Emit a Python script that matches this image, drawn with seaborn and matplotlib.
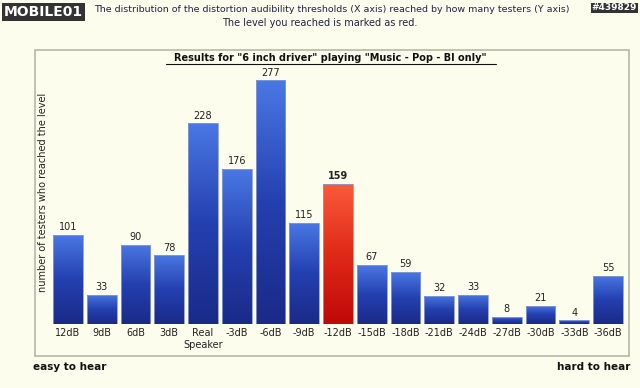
import numpy as np
import pandas as pd
import matplotlib
matplotlib.use("Agg")
import matplotlib.pyplot as plt
from matplotlib.colors import LinearSegmentedColormap
from matplotlib.patches import Rectangle
import seaborn as sns

categories = ["12dB", "9dB", "6dB", "3dB", "Real\nSpeaker", "-3dB", "-6dB", "-9dB",
              "-12dB", "-15dB", "-18dB", "-21dB", "-24dB", "-27dB", "-30dB", "-33dB", "-36dB"]
counts = [101, 33, 90, 78, 228, 176, 277, 115, 159, 67, 59, 32, 33, 8, 21, 4, 55]
highlight = "-12dB"

title = 'Results for "6 inch driver" playing "Music - Pop - Bl only"'
header1 = "The distribution of the distortion audibility thresholds (X axis) reached by how many testers (Y axis)"
header2 = "The level you reached is marked as red."
ylabel = "number of testers who reached the level"

BG = "#fdfdee"
sns.set_theme(style="white")
plt.rcParams["font.family"] = ["DejaVu Sans"]

fig = plt.figure(figsize=(6.4, 3.88), dpi=100, facecolor=BG)
W, H = 640, 388

# panel border
fig.patches.append(Rectangle((35 / W, 1 - 356 / H), (629 - 35) / W, (356 - 50) / H,
                             transform=fig.transFigure, facecolor="none",
                             edgecolor="#b8b8a8", linewidth=1.2, zorder=-1))

ax = fig.add_axes([51 / W, 1 - 324 / H, (625 - 51) / W, (324 - 60) / H])
ax.set_facecolor("none")

df = pd.DataFrame({"level": categories, "count": counts})
sns.barplot(data=df, x="level", y="count", order=categories, color="#2a4cc0",
            width=0.88, ax=ax, edgecolor="none")

blue = LinearSegmentedColormap.from_list("b", ["#1a2a88", "#2440b0", "#4a78e4"])
red = LinearSegmentedColormap.from_list("r", ["#c00808", "#e02a18", "#fa5a3a"])
grad = np.linspace(0, 1, 256).reshape(-1, 1)
for patch, cat, val in list(zip(ax.patches, categories, counts)):
    x0, w = patch.get_x(), patch.get_width()
    cmap = red if cat == highlight else blue
    patch.set_facecolor("none")
    im = ax.imshow(grad, extent=(x0, x0 + w, 0, val), origin="lower", cmap=cmap,
                   aspect="auto", zorder=2)
    im.set_clip_path(patch)
    ax.add_patch(Rectangle((x0, 0), w, val, facecolor="none", edgecolor="#8a9ad0",
                           linewidth=0.6, zorder=3))
    ax.text(x0 + w / 2, val + 3, str(val), ha="center", va="bottom",
            fontsize=7, color="#222222",
            fontweight="bold" if cat == highlight else "normal")
ax.set_xlim(-0.5, len(categories) - 0.5)
ax.set_ylim(0, 300)

ax.set_xlabel("")
ax.set_ylabel(ylabel, fontsize=7, color="#222222", labelpad=2)
ax.set_yticks([])
ax.tick_params(axis="x", length=0, pad=3, labelsize=7, colors="#222222")
for s in ["top", "right", "left", "bottom"]:
    ax.spines[s].set_visible(False)

fig.text(330 / W, 1 - 58 / H, title, ha="center", va="center", fontsize=7,
         fontweight="bold", color="#111111")
fig.add_artist(plt.Line2D([166 / W, 496 / W], [1 - 64 / H, 1 - 64 / H],
                          color="#111111", linewidth=0.8))

fig.text(94 / W, 1 - 10 / H, header1, ha="left", va="center", fontsize=6.8,
         color="#222244")
fig.text(320 / W, 1 - 23 / H, header2, ha="center", va="center", fontsize=7,
         color="#222244")
fig.text(4 / W, 1 - 12 / H, "MOBILE01", ha="left", va="center", fontsize=10,
         fontweight="bold", color="white",
         bbox=dict(facecolor="#333333", edgecolor="none", pad=1.2))
fig.text(637 / W, 1 - 8 / H, "#439829", ha="right", va="center", fontsize=6.5,
         fontweight="bold", color="white",
         bbox=dict(facecolor="#333333", edgecolor="none", pad=0.6))

fig.text(33 / W, 1 - 367 / H, "easy to hear", ha="left", va="center", fontsize=7.5,
         fontweight="bold", color="#111111")
fig.text(630 / W, 1 - 367 / H, "hard to hear", ha="right", va="center", fontsize=7.5,
         fontweight="bold", color="#111111")

fig.savefig("out.png", dpi=100, facecolor=BG)
